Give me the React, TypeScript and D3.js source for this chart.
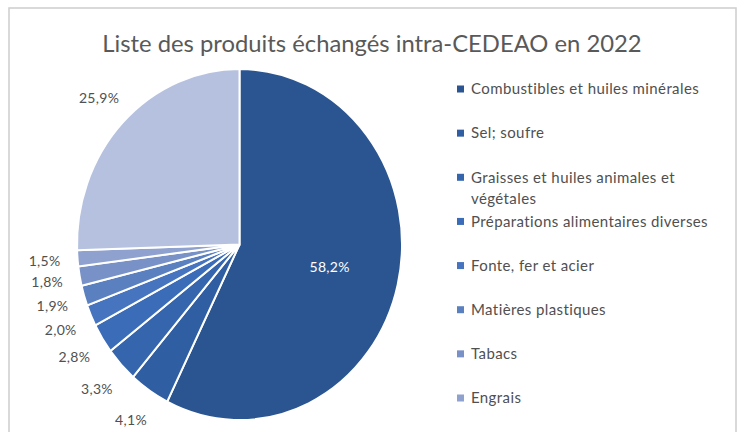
import React from "react";
import * as d3 from "d3";

const categories = [
  "Combustibles et huiles minérales",
  "Sel; soufre",
  "Graisses et huiles animales et végétales",
  "Préparations alimentaires diverses",
  "Fonte, fer et acier",
  "Matières plastiques",
  "Tabacs",
  "Engrais",
  "Autres",
];
const values = [58.2, 4.1, 3.3, 2.8, 2.0, 1.9, 1.8, 1.5, 25.9];
const labels = ["58,2%", "4,1%", "3,3%", "2,8%", "2,0%", "1,9%", "1,8%", "1,5%", "25,9%"];
const colors = [
  "#2b5590",
  "#2f5ea3",
  "#3465ad",
  "#3a6cb8",
  "#4674be",
  "#5a80c0",
  "#7891c6",
  "#8fa2cf",
  "#b5c1de",
];
const legendCount = 8;
const title = "Liste des produits échangés intra-CEDEAO en 2022";

const W = 743;
const H = 432;
const FONT = "Lato, 'Open Sans', sans-serif";
const LEG_SIZE = 15;
const LEG_SPACING = 0.4;

function wrap(text: string, maxW: number, font: string, spacing: number): string[] {
  const c = document.createElement("canvas").getContext("2d");
  if (!c) return [text];
  c.font = font;
  const width = (t: string) => c.measureText(t).width + spacing * t.length;
  const words = text.split(" ");
  const lines: string[] = [];
  let cur = "";
  for (const w of words) {
    const t = cur ? cur + " " + w : w;
    if (width(t) > maxW && cur) {
      lines.push(cur);
      cur = w;
    } else cur = t;
  }
  if (cur) lines.push(cur);
  return lines;
}

export default function App() {
  const cx = 239.5;
  const cy = 244.5;
  const r = 162.5;
  const sy = 1.08;
  const pie = d3.pie<number>().sort(null).value((d) => d)(values);
  const arc = d3.arc<d3.PieArcDatum<number>>().innerRadius(0).outerRadius(r);
  const legendY = d3.scaleLinear().domain([0, legendCount - 1]).range([89, 398]);

  return (
    <svg width={W} height={H} style={{ position: "absolute", left: 0, top: 0, background: "#fff" }}>
      <rect x={9} y={8} width={727} height={440} fill="#fff" stroke="#d0d0d0" strokeWidth={1.6} />
      <text x={372} y={52} textAnchor="middle" fontFamily={FONT} fontSize={23.8} fill="#595959">
        {title}
      </text>
      <g transform={`translate(${cx},${cy}) scale(1,${sy})`}>
        {pie.map((p, i) => (
          <path
            key={i}
            d={arc(p) || ""}
            fill={colors[i]}
            stroke="#fff"
            strokeWidth={2}
            vectorEffect="non-scaling-stroke"
          />
        ))}
      </g>
      {pie.map((p, i) => {
        const a = (p.startAngle + p.endAngle) / 2;
        const inside = i === 0;
        const lr = inside ? r * 0.57 : r + 33;
        const x = cx + lr * Math.sin(a);
        const y = cy - lr * Math.cos(a) * sy;
        return (
          <text
            key={i}
            x={x}
            y={y}
            dy="0.35em"
            textAnchor="middle"
            fontFamily={FONT}
            fontSize={14}
            letterSpacing={0.3}
            fill={inside ? "#ffffff" : "#505050"}
          >
            {labels[i]}
          </text>
        );
      })}
      {categories.slice(0, legendCount).map((c, i) => {
        const y = legendY(i);
        const lines = wrap(c, 250, `${LEG_SIZE}px ${FONT}`, LEG_SPACING);
        return (
          <g key={i}>
            <rect x={457} y={y - 3.5} width={7} height={7} fill={colors[i]} />
            {lines.map((l, j) => (
              <text
                key={j}
                x={471}
                y={y + j * 21}
                dy="0.35em"
                fontFamily={FONT}
                fontSize={LEG_SIZE}
                letterSpacing={LEG_SPACING}
                fill="#505050"
              >
                {l}
              </text>
            ))}
          </g>
        );
      })}
    </svg>
  );
}
